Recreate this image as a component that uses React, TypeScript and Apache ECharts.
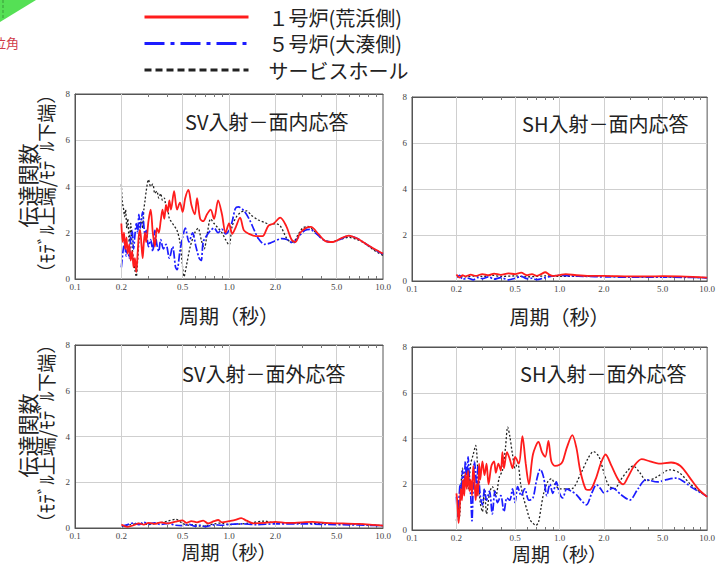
import React, { useEffect, useRef } from 'react';
import * as echarts from 'echarts';

// ---- text ----
const seriesNames = ['１号炉(荒浜側)', '５号炉(大湊側)', 'サービスホール'];
const panelTitles = ['SV入射－面内応答', 'SH入射－面内応答', 'SV入射－面外応答', 'SH入射－面外応答'];
const xAxisName = '周期（秒）';
const yAxisName1 = '伝達関数';
const yAxisName2 = '（ﾓﾃﾞﾙ上端/ﾓﾃﾞﾙ下端）';
const cornerLabel = '方位角';

// ---- ticks ----
const xLabelValues = [0.1, 0.2, 0.5, 1, 2, 5, 10];
const xGridValues = [0.2, 0.5, 1, 2, 5];
const xMinorValues = [0.2, 0.3, 0.4, 0.5, 0.6, 0.7, 0.8, 0.9, 1, 2, 3, 4, 5, 6, 7, 8, 9];
const yMin = 0;
const yMax = 8;
const yInterval = 2;

// ---- SV 入射 面内応答 ----
const tlRed = [[0.200,2.4],[0.204,1.6],[0.208,2.0],[0.212,1.3],[0.216,1.8],[0.220,1.1],[0.225,1.5],[0.230,0.8],[0.235,1.2],[0.240,0.5],[0.245,0.9],[0.250,0.3],[0.255,1.1],[0.260,1.9],[0.265,2.1],[0.270,1.5],[0.275,0.9],[0.280,1.6],[0.285,2.0],[0.290,1.6],[0.300,2.5],[0.310,3.0],[0.320,2.0],[0.330,1.4],[0.340,2.2],[0.350,2.0],[0.360,2.5],[0.370,3.0],[0.380,2.6],[0.390,3.2],[0.400,2.9],[0.410,3.4],[0.420,3.0],[0.440,3.8],[0.460,3.0],[0.480,3.3],[0.500,2.9],[0.520,3.5],[0.545,3.85],[0.570,3.2],[0.600,2.8],[0.620,3.5],[0.650,2.6],[0.680,2.5],[0.720,2.8],[0.760,3.0],[0.800,2.6],[0.850,3.4],[0.900,2.8],[0.950,2.0],[1.000,2.4],[1.050,1.95],[1.100,2.2],[1.180,2.65],[1.250,2.1],[1.350,1.95],[1.500,1.85],[1.650,1.85],[1.800,2.3],[1.950,2.4],[2.150,2.65],[2.350,2.3],[2.550,1.7],[2.700,1.6],[2.900,2.0],[3.150,2.2],[3.400,2.25],[3.800,1.95],[4.200,1.65],[4.700,1.6],[5.300,1.75],[6.000,1.88],[6.800,1.75],[7.800,1.5],[8.800,1.3],[10.0,1.1]];
const tlBlue = [[0.200,0.5],[0.205,1.2],[0.210,1.6],[0.215,1.0],[0.220,1.3],[0.225,0.9],[0.230,1.8],[0.235,2.1],[0.240,1.3],[0.245,1.9],[0.250,2.4],[0.255,2.0],[0.260,2.8],[0.265,2.2],[0.270,2.6],[0.275,2.9],[0.280,2.3],[0.285,1.9],[0.290,2.1],[0.300,1.4],[0.310,1.7],[0.320,1.2],[0.330,2.1],[0.340,1.5],[0.350,1.2],[0.360,1.7],[0.375,1.3],[0.390,1.5],[0.410,0.9],[0.430,1.4],[0.450,0.5],[0.460,0.4],[0.480,1.2],[0.500,1.8],[0.520,2.2],[0.550,1.6],[0.580,2.0],[0.610,1.4],[0.640,0.9],[0.660,0.8],[0.680,1.6],[0.720,1.9],[0.760,2.1],[0.800,2.2],[0.850,2.0],[0.900,2.15],[0.950,1.95],[1.000,2.1],[1.050,2.5],[1.100,3.05],[1.150,3.12],[1.250,2.95],[1.350,2.6],[1.450,2.15],[1.550,1.75],[1.700,1.5],[1.850,1.55],[2.000,1.65],[2.200,1.75],[2.400,1.7],[2.600,1.55],[2.850,1.85],[3.100,2.1],[3.350,2.15],[3.700,1.95],[4.200,1.65],[4.700,1.6],[5.300,1.72],[6.000,1.87],[6.800,1.75],[7.800,1.5],[8.800,1.28],[10.0,1.08]];
const tlBlack = [[0.200,4.1],[0.203,3.3],[0.206,3.1],[0.210,2.7],[0.213,3.0],[0.217,2.2],[0.220,2.6],[0.225,1.6],[0.230,2.4],[0.235,1.4],[0.240,0.8],[0.245,0.4],[0.250,0.1],[0.255,0.8],[0.260,1.6],[0.265,2.3],[0.270,2.6],[0.275,2.2],[0.280,3.0],[0.285,3.4],[0.290,3.8],[0.300,4.3],[0.310,4.0],[0.320,4.1],[0.330,3.7],[0.340,3.8],[0.350,3.5],[0.360,3.7],[0.370,3.4],[0.380,3.5],[0.390,3.1],[0.400,3.0],[0.410,2.6],[0.420,2.5],[0.440,2.3],[0.460,2.1],[0.480,1.6],[0.500,0.5],[0.510,0.1],[0.530,0.6],[0.560,1.4],[0.600,2.0],[0.630,2.2],[0.660,1.7],[0.690,1.3],[0.720,1.9],[0.760,2.6],[0.800,2.4],[0.850,2.2],[0.900,2.0],[0.950,1.7],[1.000,1.47],[1.050,2.3],[1.120,2.7],[1.200,2.9],[1.300,2.95],[1.400,2.75],[1.550,2.55],[1.700,2.45],[1.850,2.35],[2.000,2.4],[2.150,2.3],[2.400,1.7],[2.600,1.6],[2.800,1.9],[3.000,2.2],[3.250,2.27],[3.600,2.05],[4.100,1.7],[4.600,1.6],[5.200,1.7],[6.000,1.8],[6.800,1.7],[7.600,1.55],[8.700,1.25],[10.0,1.02]];

// ---- SH 入射 面内応答 ----
const trRed = [[0.2,0.28],[0.21,0.15],[0.22,0.25],[0.23,0.2],[0.25,0.28],[0.27,0.22],[0.3,0.3],[0.33,0.25],[0.36,0.32],[0.4,0.27],[0.45,0.33],[0.5,0.3],[0.55,0.36],[0.6,0.25],[0.65,0.3],[0.7,0.22],[0.75,0.3],[0.8,0.38],[0.85,0.28],[0.9,0.22],[1.0,0.26],[1.1,0.3],[1.3,0.25],[1.6,0.22],[2.0,0.22],[3.0,0.2],[4.0,0.2],[5.0,0.21],[6.5,0.2],[8.0,0.18],[10,0.15]];
const trBlue = [[0.2,0.15],[0.21,0.25],[0.22,0.08],[0.24,0.12],[0.26,0.05],[0.28,0.15],[0.3,0.1],[0.33,0.18],[0.36,0.08],[0.4,0.15],[0.45,0.05],[0.5,0.12],[0.55,0.2],[0.6,0.1],[0.65,0.12],[0.7,0.06],[0.8,0.15],[0.9,0.22],[1.0,0.25],[1.2,0.22],[1.5,0.2],[2.0,0.18],[3.0,0.17],[5.0,0.17],[7,0.16],[10,0.14]];
const trBlack = [[0.2,0.2],[0.23,0.18],[0.27,0.22],[0.3,0.2],[0.35,0.25],[0.4,0.2],[0.5,0.22],[0.6,0.18],[0.7,0.2],[0.8,0.22],[1.0,0.2],[1.5,0.2],[2.0,0.2],[3.0,0.18],[5.0,0.18],[10,0.14]];

// ---- SV 入射 面外応答 ----
const blRed = [[0.2,0.15],[0.21,0.08],[0.22,0.05],[0.24,0.12],[0.26,0.2],[0.28,0.15],[0.3,0.22],[0.33,0.18],[0.36,0.25],[0.4,0.2],[0.45,0.28],[0.5,0.33],[0.53,0.22],[0.57,0.3],[0.62,0.25],[0.68,0.32],[0.73,0.2],[0.8,0.3],[0.85,0.35],[0.9,0.25],[1.0,0.3],[1.1,0.35],[1.2,0.43],[1.3,0.32],[1.45,0.2],[1.7,0.22],[2.0,0.27],[2.4,0.22],[3.0,0.25],[3.5,0.27],[4.2,0.22],[5.5,0.2],[7,0.18],[8.5,0.14],[10,0.1]];
const blBlue = [[0.2,0.08],[0.22,0.15],[0.24,0.22],[0.26,0.15],[0.28,0.25],[0.3,0.18],[0.33,0.22],[0.36,0.15],[0.4,0.2],[0.45,0.12],[0.5,0.1],[0.55,0.16],[0.6,0.08],[0.65,0.12],[0.7,0.06],[0.8,0.14],[0.9,0.12],[1.0,0.16],[1.2,0.18],[1.5,0.15],[2.0,0.18],[3.0,0.18],[4,0.16],[6,0.14],[8,0.12],[10,0.1]];
const blBlack = [[0.2,0.05],[0.23,0.15],[0.27,0.2],[0.3,0.15],[0.35,0.22],[0.4,0.3],[0.45,0.38],[0.5,0.2],[0.55,0.12],[0.6,0.15],[0.65,0.08],[0.7,0.1],[0.8,0.18],[0.9,0.22],[1.0,0.15],[1.3,0.2],[1.7,0.3],[2.0,0.22],[2.5,0.22],[3.0,0.2],[4,0.2],[6,0.18],[8,0.14],[10,0.1]];

// ---- SH 入射 面外応答 ----
const brRed = [[0.2,1.6],[0.203,1.2],[0.207,0.3],[0.21,0.8],[0.214,1.8],[0.218,1.3],[0.222,2.2],[0.226,1.5],[0.23,2.5],[0.235,1.8],[0.24,2.6],[0.245,1.7],[0.25,2.2],[0.255,1.5],[0.26,2.8],[0.265,2.2],[0.27,1.3],[0.275,2.0],[0.28,1.5],[0.285,2.9],[0.29,2.2],[0.3,3.0],[0.31,2.4],[0.32,2.9],[0.33,2.0],[0.345,2.8],[0.36,3.0],[0.37,2.5],[0.385,2.9],[0.4,2.6],[0.41,3.4],[0.42,2.7],[0.44,3.4],[0.46,3.1],[0.48,2.7],[0.5,3.2],[0.53,2.9],[0.56,4.1],[0.59,2.9],[0.62,2.0],[0.66,3.3],[0.72,3.85],[0.76,3.4],[0.8,3.2],[0.84,3.9],[0.88,3.0],[0.93,2.8],[1.0,2.85],[1.05,3.0],[1.12,3.6],[1.22,4.15],[1.3,3.6],[1.38,2.6],[1.5,1.8],[1.6,1.75],[1.75,2.2],[1.9,2.9],[2.05,3.3],[2.25,2.8],[2.5,2.2],[2.7,2.0],[2.9,2.3],[3.2,2.8],[3.6,3.1],[4.1,3.0],[4.7,2.9],[5.7,2.95],[6.6,2.8],[7.6,2.3],[8.7,1.8],[10,1.45]];
const brBlue = [[0.2,1.45],[0.204,0.6],[0.208,1.3],[0.212,2.0],[0.216,1.5],[0.22,2.6],[0.225,1.8],[0.23,3.0],[0.235,2.0],[0.24,3.2],[0.245,2.2],[0.25,1.5],[0.255,0.4],[0.26,2.0],[0.265,3.0],[0.27,2.5],[0.275,1.5],[0.28,2.8],[0.29,1.5],[0.3,1.1],[0.31,1.8],[0.32,1.3],[0.335,1.7],[0.35,0.7],[0.365,1.7],[0.38,1.2],[0.4,1.5],[0.42,0.8],[0.44,1.4],[0.46,1.3],[0.48,1.8],[0.5,1.2],[0.52,1.9],[0.55,1.5],[0.58,1.8],[0.62,1.3],[0.66,1.4],[0.7,2.2],[0.74,2.66],[0.78,2.3],[0.82,1.5],[0.86,2.0],[0.9,1.6],[0.95,2.1],[1.0,1.6],[1.05,1.4],[1.12,1.8],[1.2,1.7],[1.3,1.55],[1.4,1.3],[1.52,1.1],[1.65,1.6],[1.78,1.98],[1.9,1.8],[2.0,1.62],[2.3,1.83],[2.6,1.55],[2.99,1.31],[3.4,1.8],[3.86,2.2],[4.6,2.1],[5.3,2.2],[6.2,2.27],[7,2.1],[8,1.83],[10,1.47]];
const brBlack = [[0.2,0.4],[0.205,1.2],[0.21,0.6],[0.215,2.0],[0.22,2.7],[0.225,1.9],[0.23,2.4],[0.24,1.8],[0.25,2.9],[0.26,3.3],[0.27,3.7],[0.28,2.5],[0.29,1.2],[0.3,0.8],[0.31,1.8],[0.32,0.7],[0.335,1.6],[0.35,1.9],[0.37,1.5],[0.39,2.3],[0.41,2.6],[0.43,3.6],[0.445,4.5],[0.46,4.1],[0.48,3.3],[0.5,2.7],[0.52,2.95],[0.545,2.0],[0.57,1.4],[0.6,0.9],[0.63,0.45],[0.66,0.3],[0.69,0.2],[0.72,0.35],[0.75,1.0],[0.78,1.6],[0.83,2.1],[0.88,2.25],[0.93,2.0],[1.0,1.8],[1.2,1.8],[1.4,2.5],[1.55,3.1],[1.7,3.43],[1.85,3.2],[2.0,2.5],[2.15,1.95],[2.35,1.8],[2.6,2.2],[2.9,2.6],[3.15,2.8],[3.5,2.5],[3.9,2.15],[4.5,2.3],[5.6,2.63],[6.5,2.5],[7.7,2.0],[8.8,1.7],[10,1.45]];

const panelData = [
  [tlRed, tlBlue, tlBlack],
  [trRed, trBlue, trBlack],
  [blRed, blBlue, blBlack],
  [brRed, brBlue, brBlack],
];

// ---- layout / style ----
const panelLayout = [
  { grid: { left: 75, top: 94, width: 308, height: 185 }, title: { left: 185, top: 110 }, yName: true, nameGap: 26, nameSize: 20 },
  { grid: { left: 412, top: 97, width: 306, height: 184 }, title: { left: 522, top: 112 }, yName: false, nameGap: 25, nameSize: 20 },
  { grid: { left: 75, top: 345, width: 308, height: 183 }, title: { left: 182, top: 362 }, yName: true, nameGap: 14, nameSize: 19 },
  { grid: { left: 412, top: 347, width: 306, height: 183 }, title: { left: 520, top: 362 }, yName: false, nameGap: 13, nameSize: 19 },
];
const seriesColors = ['#ff1c1c', '#1c1cff', '#222222'];
const seriesDash: any[] = ['solid', [8, 2, 2, 2], [2, 2]];
const seriesWidth = [1.8, 1.7, 1.3];
const legendDash: any[] = ['solid', [20, 6, 4, 6], [7, 4]];

const JP = '"Noto Sans CJK JP", "Noto Sans", sans-serif';
const SERIF = '"Liberation Serif", "DejaVu Serif", serif';

function fmtX(v: number) {
  const r = Number(v.toPrecision(3));
  return r >= 1 ? r.toFixed(1) : String(r);
}

function buildOption() {
  const grid: any[] = [];
  const xAxis: any[] = [];
  const yAxis: any[] = [];
  const series: any[] = [];
  const title: any[] = [];

  panelLayout.forEach((pl, i) => {
    grid.push({ ...pl.grid, show: true, borderColor: '#555', borderWidth: 1, backgroundColor: 'transparent' });
    title.push({
      text: panelTitles[i], left: pl.title.left, top: pl.title.top, padding: 0,
      textStyle: { fontSize: 20, lineHeight: 22, fontWeight: 'normal', fontFamily: JP, color: '#222' },
    });
    xAxis.push({
      type: 'log', logBase: 10, min: 0.1, max: 10, gridIndex: i, position: 'bottom',
      name: xAxisName, nameLocation: 'middle', nameGap: pl.nameGap,
      nameTextStyle: { fontSize: pl.nameSize, lineHeight: pl.nameSize, fontFamily: JP, color: '#222' },
      axisLine: { show: true, lineStyle: { color: '#555', width: 1 } },
      axisTick: { show: true, inside: true, length: 3, customValues: xMinorValues, lineStyle: { color: '#777' } },
      axisLabel: { show: true, customValues: xLabelValues, formatter: fmtX, margin: 3, fontSize: 9, lineHeight: 10, fontFamily: SERIF, color: '#444' },
      splitLine: { show: false },
    });
    xAxis.push({
      type: 'log', logBase: 10, min: 0.1, max: 10, gridIndex: i, position: 'top',
      axisLine: { show: true, lineStyle: { color: '#555', width: 1 } },
      axisTick: { show: true, inside: true, length: 3, customValues: xMinorValues, lineStyle: { color: '#777' } },
      axisLabel: { show: false },
      splitLine: { show: false },
    });
    yAxis.push({
      type: 'value', min: yMin, max: yMax, interval: yInterval, gridIndex: i,
      axisLine: { show: true, lineStyle: { color: '#555' } },
      axisTick: { show: false },
      axisLabel: { margin: 5, fontSize: 9, lineHeight: 10, fontFamily: SERIF, color: '#444' },
      splitLine: { show: true, lineStyle: { color: '#cfcfcf', width: 1 } },
    });
    series.push({
      name: '_grid' + i, type: 'line', xAxisIndex: i * 2, yAxisIndex: i, data: [], silent: true, z: 1,
      markLine: {
        silent: true, symbol: ['none', 'none'], label: { show: false }, animation: false,
        lineStyle: { color: '#cfcfcf', width: 1, type: 'solid' },
        data: xGridValues.map((v) => ({ xAxis: v })),
      },
    });
    panelData[i].forEach((d, k) => {
      series.push({
        name: seriesNames[k], type: 'line', xAxisIndex: i * 2, yAxisIndex: i,
        data: d, showSymbol: false, symbol: 'none', smooth: 0.3, z: 3 + (2 - k),
        lineStyle: { color: seriesColors[k], width: seriesWidth[k], type: seriesDash[k] },
        itemStyle: { color: seriesColors[k] },
        emphasis: { disabled: true },
      });
    });
  });

  const graphic: any[] = [
    { type: 'polygon', shape: { points: [[0, 0], [36, 0], [0, 22]] }, style: { fill: '#55e055' }, silent: true },
    { type: 'line', shape: { x1: 3, y1: 0, x2: 3, y2: 20 }, style: { stroke: '#3a9a3a', lineWidth: 1, lineDash: [3, 2] }, silent: true },
    { type: 'text', x: 19, y: 42, style: { text: cornerLabel, fontSize: 13, fontFamily: JP, fill: '#d03a4a', align: 'right', verticalAlign: 'middle' }, silent: true },
  ];
  panelLayout.forEach((pl) => {
    if (!pl.yName) return;
    const cy = pl.grid.top + pl.grid.height / 2;
    graphic.push({
      type: 'text', x: 27, y: cy - 1, rotation: Math.PI / 2,
      style: { text: yAxisName1, fontSize: 21, fontFamily: JP, fill: '#222', align: 'center', verticalAlign: 'middle' }, silent: true,
    });
    graphic.push({
      type: 'text', x: 45, y: cy - 3, rotation: Math.PI / 2,
      style: { text: yAxisName2, fontSize: 19, fontFamily: JP, fill: '#222', align: 'center', verticalAlign: 'middle' }, silent: true,
    });
  });

  return {
    animation: false,
    backgroundColor: '#ffffff',
    title,
    legend: {
      orient: 'vertical', left: 143, top: 7, padding: 0, itemWidth: 104, itemHeight: 14, itemGap: 6.5,
      selectedMode: false,
      itemStyle: { opacity: 0 },
      textStyle: { fontSize: 20, lineHeight: 20, fontFamily: JP, color: '#222', padding: [0, 0, 0, 15] },
      data: seriesNames.map((n, k) => ({
        name: n,
        itemStyle: { opacity: 0 },
        lineStyle: { width: 3, type: legendDash[k], color: seriesColors[k] },
      })),
    },
    grid, xAxis, yAxis, series, graphic,
  };
}

export default function App() {
  const ref = useRef<HTMLDivElement>(null);
  useEffect(() => {
    if (!ref.current) return;
    const chart = echarts.init(ref.current, null, { renderer: 'svg' });
    chart.setOption(buildOption() as any);
    return () => chart.dispose();
  }, []);
  return <div ref={ref} style={{ position: 'fixed', left: 0, top: 0, width: 718, height: 565 }} />;
}
